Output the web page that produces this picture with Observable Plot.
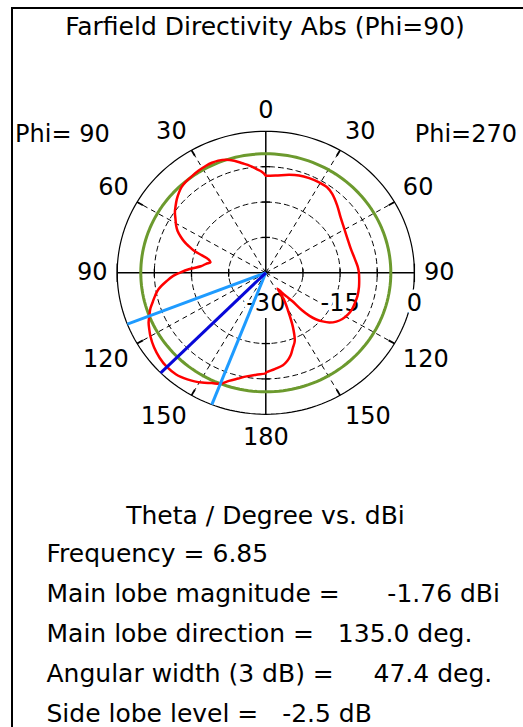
<!DOCTYPE html>
<html><head><meta charset="utf-8">
<script src="https://cdn.jsdelivr.net/npm/d3@7"></script>
<script src="https://cdn.jsdelivr.net/npm/@observablehq/plot@0.6"></script>
<style>
html,body{margin:0;padding:0;background:#fff;}
body{width:523px;height:727px;overflow:hidden;position:relative;}
#frame{position:absolute;left:11px;top:7px;width:700px;height:900px;border:2px solid #000;box-sizing:border-box;pointer-events:none;}
#chart{position:absolute;left:0;top:0;}
#chart text{white-space:pre;}
</style></head><body>
<div id="chart"></div><div id="frame"></div>
<script>
// ---------- texts ----------
const title = "Farfield Directivity Abs (Phi=90)";
const phiLeftLabel = "Phi= 90";
const phiRightLabel = "Phi=270";
const axisTitle = "Theta / Degree vs. dBi";
const frequency = "6.85";
const mainLobeMagnitude = -1.76;   // dBi
const mainLobeDirection = 135.0;   // deg
const angularWidth = 47.4;         // deg (3 dB)
const sideLobeLevel = -2.5;        // dB
const infoLines = [
  `Frequency = ${frequency}`,
  `Main lobe magnitude =      ${mainLobeMagnitude.toFixed(2)} dBi`,
  `Main lobe direction =   ${mainLobeDirection.toFixed(1)} deg.`,
  `Angular width (3 dB) =     ${angularWidth.toFixed(1)} deg.`,
  `Side lobe level =   ${sideLobeLevel.toFixed(1)} dB`
];

// ---------- axes ----------
const radialMin = -30, radialMax = 0;
const ringValues = [-22.5, -15, -7.5];
const radialTickLabels = [-30, -15, 0];
const spokeAngles = [30, 60, 120, 150];
const angleLabels = [0, 30, 60, 90, 120, 150, 180];

// ---------- series: directivity (dBi) vs theta ----------
const phi90Theta = [0, 2, 5, 8, 11.5, 15, 18.5, 22, 25, 28, 32, 36, 40, 43, 46, 49, 52, 55, 58, 61,
  63.5, 66, 68, 70, 72, 74, 76, 78.5, 81, 84, 87, 90, 92, 95, 99, 102, 105, 108, 111.3, 114,
  117, 120, 125, 130, 135, 140, 145, 148, 151, 155, 158.7, 162, 166, 170, 175, 180];
const phi90Dir = [-9.4, -8.6, -7.9, -7.1, -6.3, -5.4, -4.7, -4.35, -4.26, -4.3, -4.45, -4.65, -4.85, -5.1, -5.6, -6.2, -6.9, -7.6, -8.5, -9.3,
  -10.1, -11.2, -12.2, -13.4, -14.7, -16.6, -18.0, -18.6, -17.8, -16.8, -14.6, -12.6, -11.3, -9.9, -8.1, -7.2, -6.4, -5.5, -4.76, -4.1,
  -3.6, -3.1, -2.45, -2.0, -1.76, -1.85, -2.4, -2.85, -3.4, -4.2, -4.76, -5.9, -6.9, -7.7, -8.3, -8.7];
const phi270Theta = [0, 5.4, 12.8, 18, 23.6, 29.3, 34.3, 38.7, 45.2, 52, 59.4, 66.3, 73.4, 80.5, 86, 90, 94, 99, 104.8, 109,
  113.8, 118, 122.4, 126, 129.4, 132, 134.3, 136, 137.4, 138.3, 140, 142, 144.7, 147, 150.5, 154.5, 158, 161, 164, 167,
  170, 175, 180];
const phi270Dir = [-9.4, -9.3, -8.7, -8.3, -8.1, -8.0, -8.05, -8.55, -9.7, -10.85, -11.6, -12.0, -12.1, -11.8, -11.4, -11.2, -11.1, -10.95, -10.85, -10.9,
  -10.95, -11.2, -11.7, -12.4, -13.4, -14.6, -15.9, -17.3, -19.2, -22.0, -23.4, -24.5, -25.9, -23.4, -21.0, -17.3, -14.4, -13.2, -11.8, -10.8,
  -10.1, -9.5, -8.8];

// ---------- layout ----------
const FONT = "DejaVu Sans";
const cx = 265.3, cy = 272.3, rx = 148.6, ry = 141.5;
const labelRadiusX = 1.065, labelRadiusY = 1.095;
const lowerAxisGap = 0.32;

const norm = v => (v - radialMin) / (radialMax - radialMin);
const rad = d => d * Math.PI / 180;
// side 1 = Phi=90 (left half), side -1 = Phi=270 (right half)
const polar = (theta, r, side) => ({x: -side * r * Math.sin(rad(theta)), y: r * Math.cos(rad(theta))});
const circlePts = (r, key) => d3.range(0, 361, 2).map(a => ({key, ...polar(a, r, 1)}));

const curve = [
  ...phi90Theta.map((t, i) => polar(t, norm(phi90Dir[i]), 1)),
  ...phi270Theta.map((t, i) => polar(t, norm(phi270Dir[i]), -1)).reverse()
];

const spokes = [...spokeAngles.map(t => ({t, side: 1})), ...spokeAngles.map(t => ({t, side: -1}))];
const ringRadii = ringValues.map(norm);

const axisLines = [
  {x1: -1, y1: 0, x2: 1, y2: 0},
  {x1: 0, y1: 0, x2: 0, y2: 1},
  {x1: 0, y1: -lowerAxisGap, x2: 0, y2: -1}
];
const hTicks = [...ringRadii, ...ringRadii.map(r => -r)].map(r => ({x: r, h: 0.028}))
  .concat([{x: -1, h: 0.065}, {x: 1, h: 0.065}]);
const vTicks = [...ringRadii, ...ringRadii.map(r => -r).filter(r => r <= -lowerAxisGap)];

const angleLabelData = [
  ...angleLabels.map(t => ({t, side: 1})),
  ...angleLabels.filter(t => t > 0 && t < 180).map(t => ({t, side: -1}))
].map(d => ({
  ...d,
  x: polar(d.t, labelRadiusX, d.side).x,
  y: polar(d.t, labelRadiusY, d.side).y,
  textAnchor: (d.t === 0 || d.t === 180) ? "middle" : d.side === 1 ? "end" : "start",
  lineAnchor: d.t < 90 ? "bottom" : d.t > 90 ? "top" : "middle"
}));
const labelMarks = Array.from(d3.group(angleLabelData, d => d.textAnchor + "|" + d.lineAnchor), ([key, rows]) => {
  const [textAnchor, lineAnchor] = key.split("|");
  return Plot.text(rows, {x: "x", y: "y", text: d => String(d.t), textAnchor, lineAnchor,
    fontSize: 24, fontFamily: FONT, fill: "black"});
});

const beamHalf = angularWidth / 2;
const beams = [
  {t: mainLobeDirection - beamHalf, color: "#1e9bff"},
  {t: mainLobeDirection + beamHalf, color: "#1e9bff"},
  {t: mainLobeDirection, color: "#0808d8"}
];

const plot = Plot.plot({
  width: 523, height: 727, margin: 0,
  x: {type: "linear", domain: [-1, 1], range: [cx - rx, cx + rx], axis: null},
  y: {type: "linear", domain: [-1, 1], range: [cy + ry, cy - ry], axis: null},
  style: {fontFamily: FONT, background: "white", color: "black"},
  marks: [
    // grid rings
    Plot.line(ringValues.flatMap(v => circlePts(norm(v), v)), {x: "x", y: "y", z: "key", stroke: "black", strokeWidth: 1, strokeDasharray: "5,4"}),
    Plot.link(spokes, {x1: () => 0, y1: () => 0, x2: d => polar(d.t, 1, d.side).x, y2: d => polar(d.t, 1, d.side).y,
      stroke: "black", strokeWidth: 1, strokeDasharray: "5,4"}),
    Plot.line(circlePts(1, "outer"), {x: "x", y: "y", stroke: "black", strokeWidth: 1.2}),
    Plot.link(spokes, {x1: d => polar(d.t, 0.955, d.side).x, y1: d => polar(d.t, 0.955, d.side).y,
      x2: d => polar(d.t, 1, d.side).x, y2: d => polar(d.t, 1, d.side).y, stroke: "black", strokeWidth: 1.8}),
    Plot.link(axisLines, {x1: "x1", y1: "y1", x2: "x2", y2: "y2", stroke: "black", strokeWidth: 1.5}),
    Plot.link(hTicks, {x1: "x", x2: "x", y1: d => -d.h, y2: d => d.h, stroke: "black", strokeWidth: 1.3}),
    Plot.link(vTicks, {x1: () => -0.028, x2: () => 0.028, y1: d => d, y2: d => d, stroke: "black", strokeWidth: 1.3}),
    // labels
    ...labelMarks,
    Plot.text(radialTickLabels, {x: v => norm(v), y: () => 0, text: v => String(v), dy: 21, lineAnchor: "top", textAnchor: "middle",
      fontSize: 24, fontFamily: FONT, fill: "black", stroke: "white", strokeWidth: 7, paintOrder: "stroke"}),
    // -3 dB circle
    Plot.line(circlePts(norm(mainLobeMagnitude - 3), "3dB"), {x: "x", y: "y", stroke: "#6c9a2e", strokeWidth: 3}),
    // directivity
    Plot.line(curve, {x: "x", y: "y", stroke: "#ff0000", strokeWidth: 2.5, curve: "catmull-rom"}),
    // main lobe & beam width
    Plot.link(beams, {x1: () => 0, y1: () => 0, x2: d => polar(d.t, 1, 1).x, y2: d => polar(d.t, 1, 1).y,
      stroke: d => d.color, strokeWidth: 3}),
    // texts
    Plot.text([title], {frameAnchor: "top-left", dx: 264.5, dy: 34, text: d => d, textAnchor: "middle", lineAnchor: "bottom", fontSize: 25, fontFamily: FONT, fill: "black"}),
    Plot.text([phiLeftLabel], {frameAnchor: "top-left", dx: 14.6, dy: 141, text: d => d, textAnchor: "start", lineAnchor: "bottom", fontSize: 24, fontFamily: FONT, fill: "black"}),
    Plot.text([phiRightLabel], {frameAnchor: "top-left", dx: 516.5, dy: 141, text: d => d, textAnchor: "end", lineAnchor: "bottom", fontSize: 24, fontFamily: FONT, fill: "black"}),
    Plot.text([axisTitle], {frameAnchor: "top-left", dx: 265, dy: 523.3, text: d => d, textAnchor: "middle", lineAnchor: "bottom", fontSize: 25, fontFamily: FONT, fill: "black"}),
    ...infoLines.map((line, i) => Plot.text([line], {frameAnchor: "top-left", dx: 46, dy: 561 + i * 40, text: d => d,
      textAnchor: "start", lineAnchor: "bottom", fontSize: 25, fontFamily: FONT, fill: "black"}))
  ]
});
document.getElementById("chart").appendChild(plot);
</script>
</body></html>
